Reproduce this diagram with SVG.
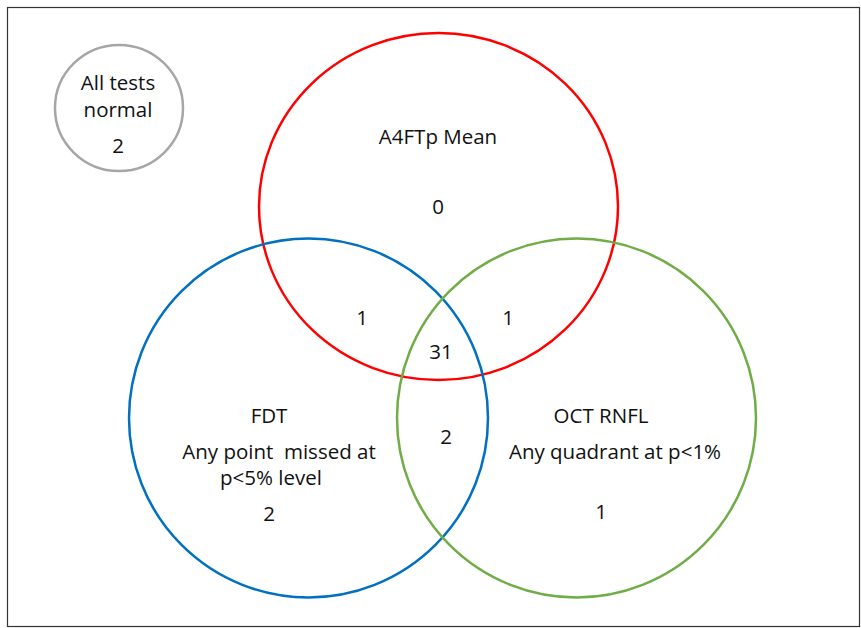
<svg xmlns="http://www.w3.org/2000/svg" width="861" height="628" viewBox="0 0 861 628">
<style>
text{font-family:"Open Sans","Liberation Sans",sans-serif;font-size:20.5px;fill:#111;text-anchor:middle;white-space:pre}
.c{fill:none;stroke-width:2.5}
</style>
<rect x="0" y="0" width="861" height="628" fill="#fff"/>
<rect x="7.5" y="7.5" width="852" height="619" fill="none" stroke="#333" stroke-width="1.2"/>
<g id="connectors"></g>
<g id="all-normal">
<ellipse cx="119" cy="108" rx="64" ry="63" fill="none" stroke="#a6a6a6" stroke-width="2.5"/>
<text x="118" y="90">All tests</text>
<text x="118" y="117">normal</text>
<text x="118" y="153">2</text>
</g>
<g id="a4ftp">
<ellipse class="c" cx="438.5" cy="206.5" rx="179.5" ry="173.5" stroke="#ff0000"/>
<text x="438" y="144">A4FTp Mean</text>
<text x="438" y="214">0</text>
</g>
<g id="fdt">
<circle class="c" cx="308.5" cy="418" r="179.5" stroke="#0070c0"/>
<text x="269" y="423">FDT</text>
<text x="279" y="459" xml:space="preserve">Any point  missed at</text>
<text x="271" y="485">p&lt;5% level</text>
<text x="269" y="521">2</text>
</g>
<g id="oct">
<circle class="c" cx="576.5" cy="418" r="179.5" stroke="#70ad47"/>
<text x="601" y="423">OCT RNFL</text>
<text x="615" y="459">Any quadrant at p&lt;1%</text>
<text x="601" y="519">1</text>
</g>
<g id="overlaps">
<text x="362" y="325">1</text>
<text x="508" y="325">1</text>
<text x="441" y="359">31</text>
<text x="446" y="444">2</text>
</g>
</svg>
